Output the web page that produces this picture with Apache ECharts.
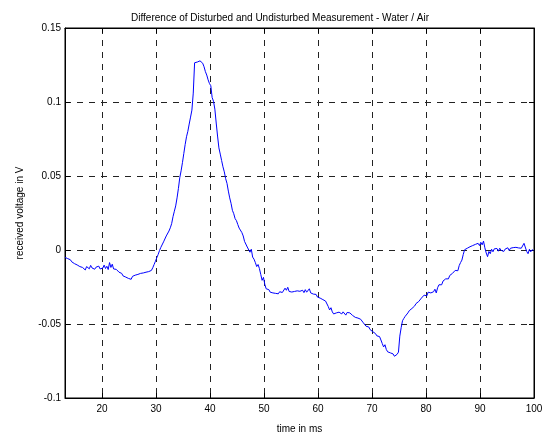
<!DOCTYPE html>
<html><head><meta charset="utf-8">
<script src="https://cdn.jsdelivr.net/npm/echarts@6/dist/echarts.min.js"></script>
<style>html,body{margin:0;padding:0;background:#fff}#c{width:544px;height:434px}</style>
</head><body><div id="c"></div>
<script>
const titleText = 'Difference of Disturbed and Undisturbed Measurement - Water / Air';
const xAxisName = 'time in ms';
const yAxisName = 'received voltage in V';
const xTicks = [20, 30, 40, 50, 60, 70, 80, 90, 100];
const yTicks = [-0.1, -0.05, 0, 0.05, 0.1, 0.15];
const timeStart = 13.15;   // ms, first sample
const timeStep = 0.25;     // ms, sample spacing
const voltage = [
-0.0050,-0.0062,-0.0058,-0.0071,-0.0066,-0.0080,-0.0075,-0.0092,-0.0088,-0.0101,
-0.0094,-0.0112,-0.0099,-0.0118,-0.0105,-0.0135,-0.0112,-0.0108,-0.0127,-0.0104,
-0.0121,-0.0113,-0.0130,-0.0116,-0.0124,-0.0109,-0.0128,-0.0117,-0.0122,-0.0102,
-0.0125,-0.0110,-0.0132,-0.0085,-0.0118,-0.0096,-0.0128,-0.0115,-0.0131,-0.0143,
-0.0150,-0.0162,-0.0158,-0.0175,-0.0168,-0.0183,-0.0176,-0.0192,-0.0185,-0.0198,
-0.0178,-0.0186,-0.0170,-0.0181,-0.0165,-0.0172,-0.0158,-0.0169,-0.0155,-0.0163,
-0.0150,-0.0158,-0.0146,-0.0152,-0.0138,-0.0120,-0.0098,-0.0076,-0.0052,-0.0030,
-0.0004,0.0018,0.0031,0.0055,0.0068,0.0095,0.0088,0.0128,0.0150,0.0178,
0.0225,0.0262,0.0298,0.0352,0.0415,0.0488,0.0535,0.0590,0.0652,0.0712,
0.0765,0.0802,0.0851,0.0898,0.0945,0.1060,0.1265,0.1252,0.1270,0.1258,
0.1278,0.1281,0.1262,0.1238,0.1205,0.1182,0.1150,0.1125,0.1110,0.1030,
0.1005,0.0952,0.0858,0.0770,0.0690,0.0648,0.0605,0.0562,0.0528,0.0482,
0.0450,0.0398,0.0352,0.0315,0.0268,0.0245,0.0212,0.0198,0.0172,0.0148,
0.0158,0.0118,0.0095,0.0058,0.0062,0.0020,0.0008,-0.0015,0.0005,-0.0048,
-0.0062,-0.0085,-0.0112,-0.0098,-0.0125,-0.0165,-0.0205,-0.0185,-0.0232,-0.0262,
-0.0275,-0.0268,-0.0285,-0.0272,-0.0290,-0.0281,-0.0293,-0.0285,-0.0296,-0.0282,
-0.0294,-0.0287,-0.0278,-0.0258,-0.0272,-0.0252,-0.0280,-0.0290,-0.0284,-0.0293,
-0.0280,-0.0288,-0.0276,-0.0286,-0.0279,-0.0290,-0.0272,-0.0288,-0.0268,-0.0285,
-0.0275,-0.0262,-0.0290,-0.0280,-0.0298,-0.0305,-0.0300,-0.0318,-0.0312,-0.0325,
-0.0318,-0.0335,-0.0328,-0.0345,-0.0358,-0.0382,-0.0405,-0.0390,-0.0418,-0.0432,
-0.0440,-0.0425,-0.0438,-0.0420,-0.0415,-0.0432,-0.0418,-0.0426,-0.0440,-0.0422,
-0.0412,-0.0425,-0.0435,-0.0442,-0.0448,-0.0455,-0.0446,-0.0460,-0.0452,-0.0468,
-0.0480,-0.0492,-0.0505,-0.0515,-0.0528,-0.0520,-0.0538,-0.0545,-0.0552,-0.0540,
-0.0565,-0.0580,-0.0592,-0.0585,-0.0608,-0.0632,-0.0655,-0.0640,-0.0672,-0.0688,
-0.0680,-0.0695,-0.0690,-0.0702,-0.0718,-0.0730,-0.0705,-0.0690,-0.0582,-0.0525,
-0.0478,-0.0462,-0.0448,-0.0435,-0.0425,-0.0410,-0.0402,-0.0395,-0.0385,-0.0378,
-0.0362,-0.0370,-0.0348,-0.0340,-0.0325,-0.0332,-0.0305,-0.0298,-0.0310,-0.0285,
-0.0272,-0.0290,-0.0300,-0.0282,-0.0265,-0.0290,-0.0255,-0.0235,-0.0222,-0.0235,
-0.0210,-0.0218,-0.0195,-0.0188,-0.0195,-0.0172,-0.0165,-0.0158,-0.0150,-0.0138,
-0.0125,-0.0140,-0.0105,-0.0085,-0.0068,-0.0030,0.0002,-0.0008,0.0012,0.0005,
0.0022,0.0010,0.0030,0.0018,0.0038,0.0025,0.0045,0.0030,0.0052,0.0035,
0.0060,0.0015,-0.0020,-0.0045,-0.0010,-0.0025,0.0005,-0.0012,0.0008,-0.0005,
0.0010,-0.0008,0.0012,-0.0002,0.0008,-0.0010,0.0006,0.0002,0.0015,-0.0003,
0.0012,0.0004,0.0016,0.0006,0.0018,0.0010,0.0014,0.0002,0.0012,0.0020,
0.0045,0.0038,-0.0010,-0.0025,0.0005,-0.0012,0.0002,-0.0004
];
const xMin = 13.15, xMax = 100, yMin = -0.1, yMax = 0.15;

const points = voltage.map((v, i) => [+(timeStart + i * timeStep).toFixed(2), v]);
const font = 'Liberation Sans, Arial, sans-serif';
const chart = echarts.init(document.getElementById('c'), null, {renderer: 'canvas'});
const gridLine = {show: true, lineStyle: {color: '#222', width: 1, type: [6, 6]}};
chart.setOption({
  animation: false,
  backgroundColor: '#fff',
  title: {text: titleText, left: 275, top: 8, textAlign: 'center',
    textStyle: {fontFamily: font, fontSize: 10, fontWeight: 'normal', color: '#000'}},
  grid: {left: 65, right: 10, top: 28, bottom: 36, show: true, borderColor: '#000', borderWidth: 1,
    outerBoundsMode: 'none', containLabel: false},
  xAxis: [{
    type: 'value', min: xMin, max: xMax, position: 'bottom',
    name: xAxisName, nameLocation: 'middle', nameGap: 26,
    nameTextStyle: {fontFamily: font, fontSize: 10, color: '#000'},
    axisLine: {show: true, onZero: false, lineStyle: {color: '#000'}},
    axisTick: {show: true, inside: true, length: 5, customValues: xTicks, lineStyle: {color: '#000'}},
    axisLabel: {customValues: xTicks, fontFamily: font, fontSize: 10, color: '#000', margin: 6},
    splitLine: gridLine
  }, {
    type: 'value', min: xMin, max: xMax, position: 'top',
    axisLine: {show: true, onZero: false, lineStyle: {color: '#000'}},
    axisTick: {show: true, inside: true, length: 5, customValues: xTicks, lineStyle: {color: '#000'}},
    axisLabel: {show: false}, splitLine: {show: false}
  }],
  yAxis: [{
    type: 'value', min: yMin, max: yMax, interval: 0.05, position: 'left',
    name: yAxisName, nameLocation: 'middle', nameGap: 40, nameRotate: 90,
    nameTextStyle: {fontFamily: font, fontSize: 10, color: '#000'},
    axisLine: {show: true, onZero: false, lineStyle: {color: '#000'}},
    axisTick: {show: true, inside: true, length: 5, lineStyle: {color: '#000'}},
    axisLabel: {fontFamily: font, fontSize: 10, color: '#000', margin: 4,
      formatter: v => String(+v.toFixed(2))},
    splitLine: gridLine
  }, {
    type: 'value', min: yMin, max: yMax, interval: 0.05, position: 'right',
    axisLine: {show: true, onZero: false, lineStyle: {color: '#000'}},
    axisTick: {show: true, inside: true, length: 5, lineStyle: {color: '#000'}},
    axisLabel: {show: false}, splitLine: {show: false}
  }],
  series: [{
    type: 'line', data: points, xAxisIndex: 0, yAxisIndex: 0,
    showSymbol: false, symbol: 'none',
    lineStyle: {color: '#0000ff', width: 1}, clip: true
  }]
});
</script></body></html>
